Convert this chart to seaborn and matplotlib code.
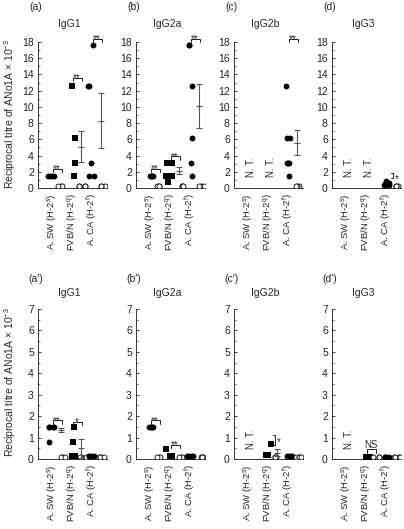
import warnings
import numpy as np
import matplotlib
matplotlib.use('Agg')
import matplotlib.pyplot as plt
from matplotlib.ticker import MultipleLocator
import seaborn as sns

warnings.filterwarnings('ignore')
np.random.seed(11)

strains = ['A. SW (H-2$^{\\mathrm{s}}$)', 'FVB/N (H-2$^{\\mathrm{q}}$)', 'A. CA (H-2$^{\\mathrm{f}}$)']
isotypes = ['IgG1', 'IgG2a', 'IgG2b', 'IgG3']
letters_top = ['(a)', '(b)', '(c)', '(d)']
letters_bot = ['(a\u2032)', '(b\u2032)', '(c\u2032)', '(d\u2032)']
ylabel = 'Reciprocal titre of ANo1A \u00d7 10$^{-3}$'

# top row: immunised (filled) / control (open), None = N. T.
a_imm = [[1.5, 1.5, 1.5, 1.5], [12.6, 6.2, 3.1, 1.5], [17.6, 12.6, 12.6, 3.1, 1.5, 1.5]]
a_ctl = [[0.3, 0.3, 0.3], [0.3, 0.3, 0.3, 0.3], [0.3, 0.3, 0.3]]
a_mean = [None, 5.1, 8.3]
a_sd = [None, 1.9, 3.4]
a_sig = [(0, '**', 2.4), (1, '**', 13.6), (2, '**', 18.4)]
a_vsig = []

b_imm = [[1.5, 1.5, 1.5, 1.5], [3.1, 3.1, 1.5, 1.5, 0.8], [17.6, 17.6, 12.6, 6.2, 3.1, 1.5]]
b_ctl = [[0.3, 0.3, 0.3], [0.3, 0.3, 0.3], [0.3, 0.3, 0.3]]
b_mean = [None, 2.15, 10.15]
b_sd = [None, 0.4, 2.7]
b_sig = [(0, '**', 2.4), (1, '**', 3.9), (2, '**', 18.4)]
b_vsig = []

c_imm = [None, None, [12.6, 6.2, 6.2, 3.1, 3.1, 3.1, 1.5]]
c_ctl = [None, None, [0.3, 0.3, 0.3]]
c_mean = [None, None, 5.6]
c_sd = [None, None, 1.55]
c_sig = [(2, '**', 18.4)]
c_vsig = []

d_imm = [None, None, [0.9, 0.6, 0.5, 0.4, 0.4, 0.4]]
d_ctl = [None, None, [0.3, 0.3, 0.3]]
d_mean = [None, None, None]
d_sd = [None, None, None]
d_sig = []
d_vsig = [(2, '*', 1.2, 1.9)]

# bottom row
ap_imm = [[1.5, 1.5, 1.5, 1.5, 0.8], [1.5, 0.8, 0.15, 0.15], [0.15, 0.15, 0.15, 0.15]]
ap_ctl = [[0.1, 0.1, 0.1], [0.1, 0.1, 0.1], [0.1, 0.1, 0.1, 0.1]]
ap_mean = [1.36, 0.5, None]
ap_sd = [0.1, 0.43, None]
ap_sig = [(0, '**', 1.8), (1, '*', 1.75)]
ap_vsig = []

bp_imm = [[1.5, 1.5, 1.5, 1.5], [0.45, 0.15, 0.15], [0.15, 0.15, 0.15, 0.15]]
bp_ctl = [[0.1, 0.1, 0.1], [0.1, 0.1, 0.1], [0.1, 0.1, 0.1, 0.1]]
bp_mean = [None, None, None]
bp_sd = [None, None, None]
bp_sig = [(0, '**', 1.8), (1, '**', 0.65)]
bp_vsig = []

cp_imm = [None, [0.7, 0.2, 0.2], [0.15, 0.15, 0.15, 0.15]]
cp_ctl = [None, [0.1, 0.1, 0.1], [0.1, 0.1, 0.1, 0.1]]
cp_mean = [None, 0.3, None]
cp_sd = [None, 0.15, None]
cp_sig = []
cp_vsig = [(1, '*', 0.65, 1.1)]

dp_imm = [None, [0.1, 0.1, 0.1, 0.1], [0.1, 0.1, 0.1, 0.1]]
dp_ctl = [None, [0.1, 0.1, 0.1], [0.1, 0.1, 0.1, 0.1]]
dp_mean = [None, None, None]
dp_sd = [None, None, None]
dp_sig = [(1, 'NS', 0.45)]
dp_vsig = []

top_panels = [(a_imm, a_ctl, a_mean, a_sd, a_sig, a_vsig),
              (b_imm, b_ctl, b_mean, b_sd, b_sig, b_vsig),
              (c_imm, c_ctl, c_mean, c_sd, c_sig, c_vsig),
              (d_imm, d_ctl, d_mean, d_sd, d_sig, d_vsig)]
bot_panels = [(ap_imm, ap_ctl, ap_mean, ap_sd, ap_sig, ap_vsig),
              (bp_imm, bp_ctl, bp_mean, bp_sd, bp_sig, bp_vsig),
              (cp_imm, cp_ctl, cp_mean, cp_sd, cp_sig, cp_vsig),
              (dp_imm, dp_ctl, dp_mean, dp_sd, dp_sig, dp_vsig)]

sns.set_theme(style='ticks')
plt.rcParams['font.family'] = ['Liberation Sans', 'DejaVu Sans']
plt.rcParams['mathtext.fontset'] = 'custom'
plt.rcParams['mathtext.rm'] = 'Liberation Sans'
plt.rcParams['mathtext.it'] = 'Liberation Sans:italic'

W, H = 404, 529
fig = plt.figure(figsize=(W / 100, H / 100), dpi=100)
lefts = [38, 136, 234, 332]
markers = ['o', 's', 'o']
ink = '#222222'


def draw_panel(ax, data, ymax, major, minor, nt_y, h):
    imm, ctl, mean, sd, sig, vsig = data
    ax.set_xlim(-1.4, 5.5)
    ax.set_ylim(0, ymax)
    for i in range(3):
        xi = 2 * i
        if imm[i] is None:
            ax.text(xi + 0.35, nt_y, 'N. T.', rotation=90, ha='center', va='bottom', fontsize=7)
            continue
        sns.stripplot(x=[xi] * len(imm[i]), y=imm[i], native_scale=True, orient='x', ax=ax,
                      jitter=0.38, color='black', marker=markers[i], size=4.2, linewidth=0)
        sns.stripplot(x=[xi + 1] * len(ctl[i]), y=ctl[i], native_scale=True, orient='x', ax=ax,
                      jitter=0.4, color='white', edgecolor='black', linewidth=0.6, size=3.6)
        if mean[i] is not None:
            ax.errorbar(xi + 0.9, mean[i], yerr=sd[i], fmt='_', color='#555555', ms=4, mew=0.8,
                        elinewidth=0.8, capsize=2, capthick=0.8, zorder=5)
    for i, lab, y in sig:
        x0, x1 = 2 * i + 0.05, 2 * i + 0.95
        ax.plot([x0, x0, x1, x1], [y - h, y, y, y - h], color=ink, lw=0.7, clip_on=False)
        off = -2.5 if '*' in lab else 1.0
        ax.annotate(lab, ((x0 + x1) / 2, y), xytext=(0, off), textcoords='offset points',
                    ha='center', va='baseline', fontsize=7, annotation_clip=False)
    for i, lab, y0, y1 in vsig:
        x0, x1 = 2 * i + 0.45, 2 * i + 0.7
        ax.plot([x0, x1, x1, x0], [y0, y0, y1, y1], color=ink, lw=0.7, clip_on=False)
        ax.annotate(lab, (x1, y1), xytext=(1.2, -7), textcoords='offset points',
                    ha='left', va='baseline', fontsize=7, annotation_clip=False)
    ax.yaxis.set_major_locator(MultipleLocator(major))
    ax.yaxis.set_minor_locator(MultipleLocator(minor))
    ax.tick_params(axis='y', which='major', direction='in', length=2.5, width=0.6,
                   labelsize=7.5, pad=3, colors=ink)
    ax.tick_params(axis='y', which='minor', direction='in', length=1.5, width=0.5, left=True)
    ax.set_xticks([0, 2, 4])
    ax.set_xticklabels(strains, rotation=90, fontsize=6.8)
    ax.tick_params(axis='x', length=0, pad=4, colors=ink)
    ax.set_xlabel('')
    ax.set_ylabel('')
    sns.despine(ax=ax)
    for s in ['left', 'bottom']:
        ax.spines[s].set_linewidth(0.7)
        ax.spines[s].set_color('#333333')


for k in range(4):
    ax = fig.add_axes([lefts[k] / W, (H - 188) / H, 69 / W, 146 / H])
    draw_panel(ax, top_panels[k], 18, 2, 1, 1.3, 0.45)
    fig.text((lefts[k] - 2) / W, 1 - 7.5 / H, letters_top[k], ha='center', va='center', fontsize=7.5)
    fig.text((lefts[k] + 31) / W, 1 - 24 / H, isotypes[k], ha='center', va='center', fontsize=7.5)

    ax = fig.add_axes([lefts[k] / W, (H - 459) / H, 69 / W, 150 / H])
    draw_panel(ax, bot_panels[k], 7, 1, 0.5, 0.45, 0.15)
    fig.text((lefts[k] - 2) / W, 1 - 279 / H, letters_bot[k], ha='center', va='center', fontsize=7.5)
    fig.text((lefts[k] + 31) / W, 1 - 293.5 / H, isotypes[k], ha='center', va='center', fontsize=7.5)

fig.text(10 / W, 1 - 114 / H, ylabel, rotation=90, ha='center', va='center', fontsize=7.5)
fig.text(10 / W, 1 - 382 / H, ylabel, rotation=90, ha='center', va='center', fontsize=7.5)

fig.savefig('out.png', dpi=100)
